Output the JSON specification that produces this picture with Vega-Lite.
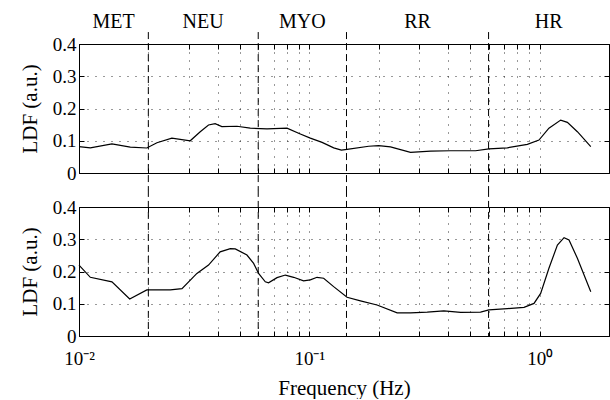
{
  "$schema": "https://vega.github.io/schema/vega-lite/v6.json",
  "padding": {"left": 18, "top": 11, "right": 1, "bottom": 0},
  "spacing": 34,
  "bounds": "flush",
  "config": {
    "font": "Liberation Serif",
    "view": {"stroke": "black", "strokeWidth": 1},
    "axis": {
      "labelFont": "Liberation Serif",
      "titleFont": "Liberation Serif",
      "labelFontSize": 19,
      "titleFontSize": 21,
      "titleFontWeight": "normal",
      "labelColor": "black",
      "titleColor": "black",
      "domain": false,
      "tickColor": "black",
      "gridColor": "black",
      "gridDash": [1, 7],
      "gridOpacity": 0.8,
      "gridWidth": 1,
      "tickSize": -5,
      "labelOverlap": false,
      "labelFlush": false
    },
    "text": {"font": "Liberation Serif", "fontSize": 20}
  },
  "datasets": {
    "top": [
      {"f": 0.01, "v": 0.082}, {"f": 0.0112, "v": 0.078}, {"f": 0.0139, "v": 0.09}, {"f": 0.0167, "v": 0.08},
      {"f": 0.0197, "v": 0.0775}, {"f": 0.0218, "v": 0.094}, {"f": 0.0253, "v": 0.108}, {"f": 0.0304, "v": 0.1},
      {"f": 0.0336, "v": 0.128}, {"f": 0.0365, "v": 0.149}, {"f": 0.039, "v": 0.153}, {"f": 0.0417, "v": 0.144},
      {"f": 0.0485, "v": 0.145}, {"f": 0.0554, "v": 0.139}, {"f": 0.0655, "v": 0.137}, {"f": 0.08, "v": 0.139},
      {"f": 0.0914, "v": 0.121}, {"f": 0.101, "v": 0.108}, {"f": 0.1136, "v": 0.095}, {"f": 0.1276, "v": 0.078},
      {"f": 0.1378, "v": 0.071}, {"f": 0.1458, "v": 0.073}, {"f": 0.181, "v": 0.083}, {"f": 0.2, "v": 0.085},
      {"f": 0.225, "v": 0.081}, {"f": 0.275, "v": 0.064}, {"f": 0.336, "v": 0.068}, {"f": 0.41, "v": 0.069},
      {"f": 0.527, "v": 0.069}, {"f": 0.602, "v": 0.075}, {"f": 0.724, "v": 0.078}, {"f": 0.884, "v": 0.089},
      {"f": 0.993, "v": 0.102}, {"f": 1.097, "v": 0.139}, {"f": 1.234, "v": 0.164}, {"f": 1.319, "v": 0.157},
      {"f": 1.458, "v": 0.128}, {"f": 1.667, "v": 0.082}
    ],
    "bottom": [
      {"f": 0.01, "v": 0.22}, {"f": 0.0112, "v": 0.182}, {"f": 0.0139, "v": 0.168}, {"f": 0.0166, "v": 0.115},
      {"f": 0.0197, "v": 0.143}, {"f": 0.0249, "v": 0.143}, {"f": 0.028, "v": 0.147}, {"f": 0.0325, "v": 0.194},
      {"f": 0.0365, "v": 0.22}, {"f": 0.041, "v": 0.261}, {"f": 0.0454, "v": 0.271}, {"f": 0.0477, "v": 0.27},
      {"f": 0.0536, "v": 0.251}, {"f": 0.0573, "v": 0.225}, {"f": 0.0602, "v": 0.194}, {"f": 0.0644, "v": 0.168},
      {"f": 0.0665, "v": 0.165}, {"f": 0.0724, "v": 0.181}, {"f": 0.0787, "v": 0.189}, {"f": 0.0855, "v": 0.182},
      {"f": 0.0944, "v": 0.171}, {"f": 0.101, "v": 0.174}, {"f": 0.108, "v": 0.182}, {"f": 0.1154, "v": 0.179},
      {"f": 0.1275, "v": 0.153}, {"f": 0.1458, "v": 0.12}, {"f": 0.1667, "v": 0.109}, {"f": 0.1968, "v": 0.096},
      {"f": 0.2406, "v": 0.072}, {"f": 0.275, "v": 0.072}, {"f": 0.325, "v": 0.074}, {"f": 0.3837, "v": 0.078},
      {"f": 0.454, "v": 0.073}, {"f": 0.554, "v": 0.074}, {"f": 0.602, "v": 0.081}, {"f": 0.724, "v": 0.085},
      {"f": 0.855, "v": 0.089}, {"f": 0.945, "v": 0.101}, {"f": 1.01, "v": 0.132}, {"f": 1.097, "v": 0.21},
      {"f": 1.194, "v": 0.282}, {"f": 1.276, "v": 0.305}, {"f": 1.341, "v": 0.298}, {"f": 1.458, "v": 0.241},
      {"f": 1.667, "v": 0.137}
    ],
    "bands": [{"f": 0.02}, {"f": 0.06}, {"f": 0.145}, {"f": 0.6}],
    "labels": [
      {"f": 0.01414, "name": "MET"}, {"f": 0.0346, "name": "NEU"}, {"f": 0.0933, "name": "MYO"},
      {"f": 0.295, "name": "RR"}, {"f": 1.095, "name": "HR"}
    ]
  },
  "vconcat": [
    {
      "width": 530,
      "height": 129,
      "layer": [
        {
          "data": {"name": "top"},
          "mark": {"type": "line", "color": "black", "strokeWidth": 1.2},
          "encoding": {
            "x": {"field": "f", "type": "quantitative",
                  "scale": {"type": "log", "domain": [0.01, 2], "nice": false},
                  "axis": {"orient": "bottom", "title": null, "grid": true, "labels": false,
                           "values": [0.01,0.02,0.03,0.04,0.05,0.06,0.07,0.08,0.09,0.1,0.2,0.3,0.4,0.5,0.6,0.7,0.8,0.9,1,2]}},
            "y": {"field": "v", "type": "quantitative",
                  "scale": {"domain": [0, 0.4], "nice": false},
                  "axis": {"orient": "left", "title": "LDF (a.u.)", "grid": true, "values": [0, 0.1, 0.2, 0.3, 0.4],
                           "labelExpr": "datum.value == 0 ? '0' : format(datum.value, '.1f')", "labelPadding": 8, "titlePadding": 12}}
          }
        },
        {
          "data": {"name": "top"},
          "mark": {"type": "line", "strokeOpacity": 0},
          "encoding": {
            "x": {"field": "f", "type": "quantitative",
                  "axis": {"orient": "top", "title": null, "grid": false, "labels": false,
                           "values": [0.01,0.02,0.03,0.04,0.05,0.06,0.07,0.08,0.09,0.1,0.2,0.3,0.4,0.5,0.6,0.7,0.8,0.9,1,2]}},
            "y": {"field": "v", "type": "quantitative",
                  "axis": {"orient": "right", "title": null, "grid": false, "labels": false, "values": [0, 0.1, 0.2, 0.3, 0.4]}}
          }
        },
        {
          "data": {"name": "bands"},
          "mark": {"type": "rule", "color": "black", "strokeDash": [7, 4], "strokeWidth": 1},
          "encoding": {
            "x": {"field": "f", "type": "quantitative", "axis": null},
            "y": {"datum": 0.437, "axis": null},
            "y2": {"datum": -0.053}
          }
        },
        {
          "data": {"name": "labels"},
          "mark": {"type": "text", "baseline": "middle", "align": "center", "color": "black"},
          "encoding": {
            "x": {"field": "f", "type": "quantitative", "axis": null},
            "y": {"datum": 0.468, "axis": null},
            "text": {"field": "name"}
          }
        }
      ],
      "resolve": {"axis": {"x": "independent", "y": "independent"}}
    },
    {
      "width": 530,
      "height": 129,
      "layer": [
        {
          "data": {"name": "bottom"},
          "mark": {"type": "line", "color": "black", "strokeWidth": 1.2},
          "encoding": {
            "x": {"field": "f", "type": "quantitative",
                  "scale": {"type": "log", "domain": [0.01, 2], "nice": false},
                  "axis": {"orient": "bottom", "title": "Frequency (Hz)", "grid": true,
                           "labelExpr": "datum.value == 0.01 ? '10⁻²' : datum.value == 0.1 ? '10⁻¹' : datum.value == 1 ? '10⁰' : ''",
                           "labelPadding": 18, "titlePadding": 9,
                           "values": [0.01,0.02,0.03,0.04,0.05,0.06,0.07,0.08,0.09,0.1,0.2,0.3,0.4,0.5,0.6,0.7,0.8,0.9,1,2]}},
            "y": {"field": "v", "type": "quantitative",
                  "scale": {"domain": [0, 0.4], "nice": false},
                  "axis": {"orient": "left", "title": "LDF (a.u.)", "grid": true, "values": [0, 0.1, 0.2, 0.3, 0.4],
                           "labelExpr": "datum.value == 0 ? '0' : format(datum.value, '.1f')", "labelPadding": 8, "titlePadding": 12}}
          }
        },
        {
          "data": {"name": "bottom"},
          "mark": {"type": "line", "strokeOpacity": 0},
          "encoding": {
            "x": {"field": "f", "type": "quantitative",
                  "axis": {"orient": "top", "title": null, "grid": false, "labels": false,
                           "values": [0.01,0.02,0.03,0.04,0.05,0.06,0.07,0.08,0.09,0.1,0.2,0.3,0.4,0.5,0.6,0.7,0.8,0.9,1,2]}},
            "y": {"field": "v", "type": "quantitative",
                  "axis": {"orient": "right", "title": null, "grid": false, "labels": false, "values": [0, 0.1, 0.2, 0.3, 0.4]}}
          }
        },
        {
          "data": {"name": "bands"},
          "mark": {"type": "rule", "color": "black", "strokeDash": [7, 4], "strokeWidth": 1},
          "encoding": {
            "x": {"field": "f", "type": "quantitative", "axis": null},
            "y": {"datum": 0.453, "axis": null},
            "y2": {"datum": 0}
          }
        }
      ],
      "resolve": {"axis": {"x": "independent", "y": "independent"}}
    }
  ]
}
